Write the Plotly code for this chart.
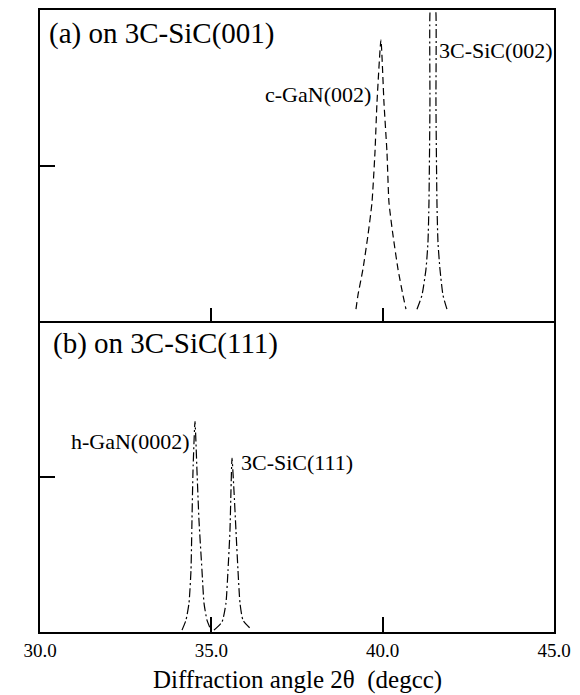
import plotly.graph_objects as go
from plotly.subplots import make_subplots

# ---- data (2theta in degrees, normalized intensity per panel) ----
cgan_x = [39.221, 39.279, 39.425, 39.571, 39.688, 39.775, 39.834, 39.950,
          40.038, 40.126, 40.184, 40.301, 40.447, 40.592, 40.680]
cgan_y = [0.038, 0.083, 0.167, 0.276, 0.381, 0.542, 0.702, 0.904,
          0.702, 0.542, 0.381, 0.276, 0.167, 0.083, 0.038]

sic002_x = [41.001, 41.147, 41.264, 41.322, 41.351, 41.380, 41.380, 41.468,
            41.555, 41.555, 41.584, 41.614, 41.672, 41.760, 41.876]
sic002_y = [0.038, 0.083, 0.167, 0.253, 0.381, 0.702, 0.990, 1.087,
            0.990, 0.702, 0.381, 0.253, 0.167, 0.083, 0.038]

hgan_x = [34.144, 34.260, 34.348, 34.406, 34.435, 34.465, 34.523,
          34.581, 34.640, 34.727, 34.786, 34.873, 34.990]
hgan_y = [0.006, 0.038, 0.093, 0.198, 0.358, 0.518, 0.677,
          0.518, 0.358, 0.198, 0.093, 0.038, 0.006]

sic111_x = [35.077, 35.311, 35.427, 35.486, 35.544, 35.573, 35.603,
            35.661, 35.719, 35.778, 35.836, 35.924, 36.186]
sic111_y = [0.006, 0.032, 0.093, 0.198, 0.326, 0.454, 0.559,
            0.454, 0.326, 0.198, 0.093, 0.038, 0.006]

x_tick_vals = [30, 35, 40, 45]
x_tick_text = ["30.0", "35.0", "40.0", "45.0"]

FONT = "Liberation Serif, Times New Roman, serif"

fig = make_subplots(rows=2, cols=1, shared_xaxes=False, vertical_spacing=0)

dash_long = "7px,4px"
dash_dot = "9px,3px,2px,3px"

def add_peak(x, y, dash, row):
    fig.add_trace(go.Scatter(x=x, y=y, mode="lines",
                             line=dict(color="black", width=1.2, dash=dash,
                                       shape="spline", smoothing=0.5)),
                  row=row, col=1)

add_peak(cgan_x, cgan_y, dash_long, 1)
add_peak(sic002_x, sic002_y, dash_dot, 1)
add_peak(hgan_x, hgan_y, dash_dot, 2)
add_peak(sic111_x, sic111_y, dash_dot, 2)

axis_common = dict(showline=True, linecolor="black", linewidth=2,
                   showgrid=False, zeroline=False, ticks="inside",
                   tickcolor="black", tickwidth=1.5)

fig.update_xaxes(range=[30, 45], tickvals=[35, 40], ticklen=13, mirror=True,
                 showticklabels=False, **axis_common, row=1, col=1)
fig.update_xaxes(range=[30, 45], tickvals=x_tick_vals, ticktext=x_tick_text,
                 ticklen=15, showticklabels=True, mirror=False,
                 tickfont=dict(family=FONT, size=19, color="black"),
                 **axis_common, row=2, col=1)
fig.update_yaxes(range=[0, 1], tickvals=[0.5], ticklen=15, mirror=True,
                 showticklabels=False, **axis_common, row=1, col=1)
fig.update_yaxes(range=[0, 1], tickvals=[0.5], ticklen=15, mirror=True,
                 showticklabels=False, **axis_common, row=2, col=1)

def ann(text, x, y, xref, yref, size, xanchor="left"):
    fig.add_annotation(text=text, x=x, y=y, xref=xref, yref=yref,
                       showarrow=False, xanchor=xanchor, yanchor="middle",
                       font=dict(family=FONT, size=size, color="black"))

ann("(a) on 3C-SiC(001)", 30.2, 0.926, "x", "y", 29)
ann("(b) on 3C-SiC(111)", 30.32, 0.927, "x2", "y2", 29)
ann("c-GaN(002)", 39.72, 0.728, "x", "y", 22, xanchor="right")
ann("3C-SiC(002)", 41.585, 0.869, "x", "y", 22)
ann("h-GaN(0002)", 34.435, 0.613, "x2", "y2", 22, xanchor="right")
ann("3C-SiC(111)", 35.807, 0.546, "x2", "y2", 22)
ann("Diffraction angle 2\u03b8\u00a0 (degcc)", 0.5, -0.077, "paper", "paper", 25,
    xanchor="center")

# page body has an 8px default margin; size the figure to compensate
fig.update_layout(width=572, height=687, showlegend=False,
                  margin=dict(l=32, r=26, t=0, b=63),
                  plot_bgcolor="white", paper_bgcolor="white")

fig.write_html("out.html")
